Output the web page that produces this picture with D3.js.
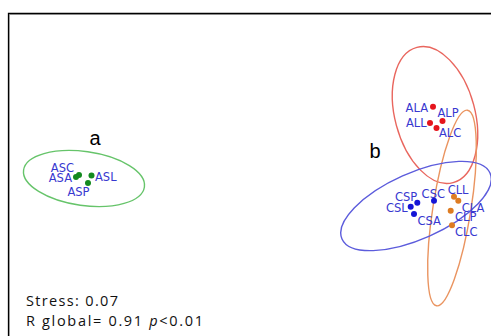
<!DOCTYPE html>
<html>
<head>
<meta charset="utf-8">
<script src="https://cdn.jsdelivr.net/npm/d3@7.9.0/dist/d3.min.js"></script>
<style>
  body { margin: 0; background: #fff; }
  svg { display: block; }
</style>
</head>
<body>
<svg id="chart" width="491" height="336"></svg>
<script>
// NMDS sample names, groups and coordinates
const names  = ["ASC", "ASA", "ASL", "ASP", "ALA", "ALP", "ALL", "ALC",
                "CSP", "CSL", "CSA", "CSC", "CLL", "CLA", "CLP", "CLC"];
const groups = ["AS", "AS", "AS", "AS", "AL", "AL", "AL", "AL",
                "CS", "CS", "CS", "CS", "CL", "CL", "CL", "CL"];
const nmds1  = [-1.71, -1.74, -1.585, -1.62, 1.83, 1.925, 1.80, 1.865,
                1.673, 1.607, 1.64, 1.84, 2.04, 2.083, 2.007, 2.02];
const nmds2  = [0.05, 0.03, 0.045, -0.03, 0.733, 0.59, 0.57, 0.52,
                -0.227, -0.267, -0.34, -0.207, -0.167, -0.207, -0.307, -0.453];

// confidence ellipses: centre, semi-axes (data units), tilt in degrees
const ellGroups = ["AS", "AL", "CL", "CS"];
const ellCx     = [-1.66, 1.85, 2.02, 1.66];
const ellCy     = [0.015, 0.65, -0.28, -0.26];
const ellRx     = [0.61, 0.40, 0.19, 0.81];
const ellRy     = [0.27, 0.70, 0.99, 0.33];
const ellAngle  = [8, -15, 9, -24];

const stressText = "Stress: 0.07";

const dotColor = { AS: "#138a1f", AL: "#e5141c", CS: "#1515d6", CL: "#de7c22" };
const ringColor = { AS: "#66c46a", AL: "#e9665e", CS: "#5c5cdc", CL: "#ea9460" };

// where each label sits relative to its point
const labelPos = {
  ASC: ["end", -5, -3.5], ASA: ["end", -4, 4.5],  ASL: ["start", 3.5, 5.5], ASP: ["middle", -9.5, 13],
  ALA: ["end", -5, 5],    ALP: ["start", -5, -4], ALL: ["end", -3.3, 3.7],  ALC: ["start", 2.5, 8.7],
  CSP: ["end", 0, -2],    CSL: ["end", -3, 5],    CSA: ["start", 3.4, 11],  CSC: ["middle", -0.7, -2.4],
  CLL: ["start", -6.3, -2.7], CLA: ["start", 3.4, 10.8], CLP: ["start", 4.3, 10.3], CLC: ["start", 3, 10.7]
};

const svg = d3.select("#chart");

const x = d3.scaleLinear().domain([-2, 2]).range([50, 450]);
const y = d3.scaleLinear().domain([-1.5, 1.5]).range([330, 30]);

// frame (black edge with a soft grey inner line)
svg.append("path")
  .attr("d", "M9.5,336V14.5H491")
  .attr("fill", "none").attr("stroke", "#b8b8b8").attr("stroke-width", 1);
svg.append("path")
  .attr("d", "M8.5,336V13.5H491")
  .attr("fill", "none").attr("stroke", "#000").attr("stroke-width", 1.3);

const ellData = ellGroups.map((g, i) => ({
  g, cx: ellCx[i], cy: ellCy[i], rx: ellRx[i], ry: ellRy[i], a: ellAngle[i]
}));

svg.selectAll("ellipse.ring")
  .data(ellData)
  .join("ellipse")
  .attr("class", "ring")
  .attr("cx", 0).attr("cy", 0)
  .attr("rx", d => x(d.rx) - x(0))
  .attr("ry", d => y(0) - y(d.ry))
  .attr("transform", d => `translate(${x(d.cx)},${y(d.cy)}) rotate(${d.a})`)
  .attr("fill", "none")
  .attr("stroke", d => ringColor[d.g])
  .attr("stroke-width", 1.4);

const pts = names.map((n, i) => ({ n, g: groups[i], x: nmds1[i], y: nmds2[i] }));

svg.selectAll("circle.pt")
  .data(pts)
  .join("circle")
  .attr("class", "pt")
  .attr("cx", d => x(d.x))
  .attr("cy", d => y(d.y))
  .attr("r", 3)
  .attr("fill", d => dotColor[d.g]);

svg.selectAll("text.lab")
  .data(pts)
  .join("text")
  .attr("class", "lab")
  .attr("x", d => x(d.x) + labelPos[d.n][1])
  .attr("y", d => y(d.y) + labelPos[d.n][2])
  .attr("text-anchor", d => labelPos[d.n][0])
  .attr("font-family", "DejaVu Sans")
  .attr("font-size", 11.5)
  .attr("fill", "#3838d0")
  .text(d => d.n);

// panel letters
svg.append("text").attr("x", 95).attr("y", 145).attr("text-anchor", "middle")
  .attr("font-family", "Liberation Sans").attr("font-size", 20).text("a");
svg.append("text").attr("x", 375).attr("y", 158).attr("text-anchor", "middle")
  .attr("font-family", "Liberation Sans").attr("font-size", 20).text("b");

// stats
svg.append("text").attr("x", 26).attr("y", 306)
  .attr("font-family", "Open Sans").attr("font-size", 14.5).attr("fill", "#111")
  .attr("textLength", 92).attr("lengthAdjust", "spacing")
  .text(stressText);
const r = svg.append("text").attr("x", 26).attr("y", 325.5)
  .attr("font-family", "Open Sans").attr("font-size", 14.5).attr("fill", "#111")
  .attr("textLength", 177).attr("lengthAdjust", "spacing");
r.append("tspan").text("R global= 0.91 ");
r.append("tspan").attr("font-style", "italic").text("p");
r.append("tspan").text("<0.01");
</script>
</body>
</html>
